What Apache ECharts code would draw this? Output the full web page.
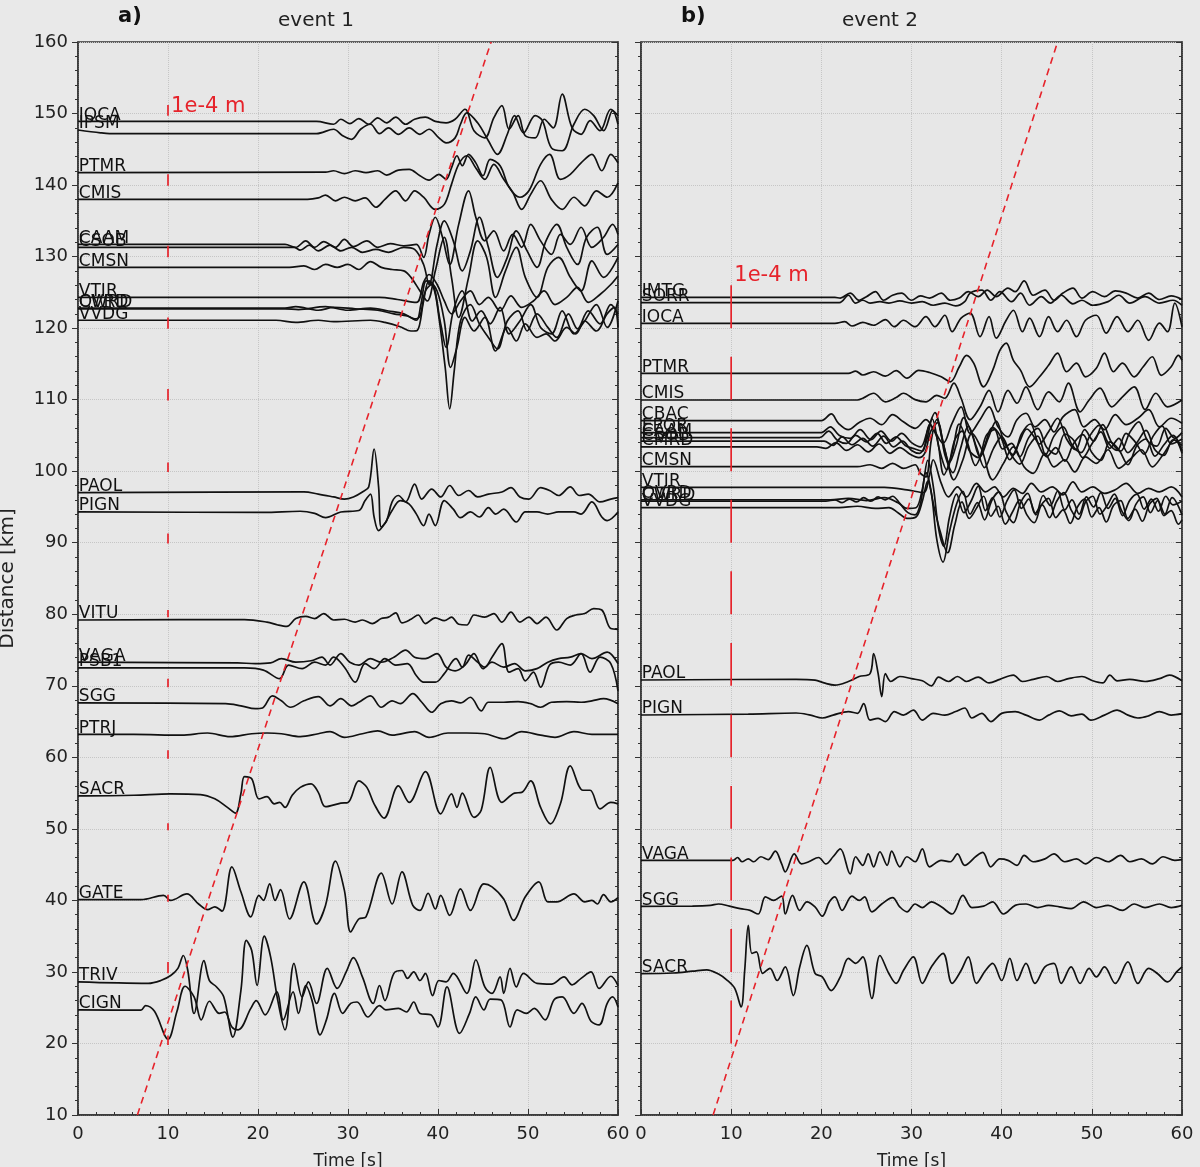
<!DOCTYPE html>
<html>
<head>
<meta charset="utf-8">
<script src="https://cdn.jsdelivr.net/npm/echarts@6/dist/echarts.min.js"></script>
<style>
  html, body { margin: 0; padding: 0; background: #e9e9e9; }
  #mainChart { width: 1200px; height: 1167px; }
</style>
</head>
<body>
<div id="mainChart"></div>
<script>
// ---- event 1 traces: [time s, distance km] ----
var e1IOCA = [[0,148.9],[26.5,148.9],[28.4,148.5],[29.2,149.2],[30.2,148.6],[31.2,149.3],[32.3,148.5],[33.3,149.4],[34.3,148.7],[35.3,149.5],[36.4,148.5],[37.4,149.2],[38.6,149.5],[39.7,148.9],[40.9,148.7],[41.9,149.2],[43.0,150.6],[44.0,147.6],[45.2,146.6],[46.2,149.4],[47.1,151.1],[47.9,147.8],[48.9,149.7],[49.7,146.9],[50.8,146.6],[51.8,149.2],[52.8,148.0],[53.8,152.7],[54.9,148.0],[55.9,147.1],[56.9,149.0],[58.0,147.6],[59.2,150.6],[60,149.7]];
var e1IPSM = [[0,147.7],[2.5,147.3],[3.5,147.2],[26.5,147.2],[28.4,147.8],[29.4,146.9],[30.4,146.4],[31.4,147.8],[32.5,148.5],[33.5,147.2],[34.5,148.0],[35.6,147.1],[36.8,148.0],[38.0,147.1],[39.0,147.8],[40.1,146.6],[40.9,145.9],[41.9,146.6],[42.5,148.5],[43.2,150.1],[44.4,148.7],[45.6,146.2],[46.6,144.3],[47.7,147.1],[48.5,149.7],[49.5,147.3],[50.8,149.7],[51.6,149.0],[52.6,145.2],[53.8,144.8],[55.1,148.5],[56.3,150.6],[57.3,149.7],[58.4,147.6],[59.4,150.4],[60,148.5]];
var e1PTMR = [[0,141.75],[27.5,141.8],[28.4,142.0],[29.6,141.6],[30.8,142.0],[32.0,141.75],[33.3,142.0],[34.3,141.4],[35.6,142.1],[36.8,142.2],[38.0,141.3],[39.0,140.7],[40.1,141.5],[40.9,140.8],[41.5,142.4],[42.1,144.1],[42.7,142.7],[43.4,144.3],[44.2,143.1],[45.0,141.3],[45.8,143.6],[46.9,142.7],[47.9,139.7],[49.1,138.3],[50.1,139.2],[51.4,142.9],[52.4,144.3],[53.6,140.8],[54.7,141.5],[55.9,143.1],[57.1,144.3],[58.2,142.0],[59.2,144.3],[60,143.1]];
var e1CMIS = [[0,138.0],[25.5,138.0],[26.7,138.2],[27.5,138.6],[28.6,137.8],[29.6,138.3],[30.8,137.8],[31.9,138.2],[33.1,136.9],[34.1,138.0],[35.3,139.2],[36.4,137.8],[37.4,139.2],[38.4,138.3],[39.7,136.6],[40.7,137.3],[41.5,140.1],[42.3,142.9],[43.2,144.1],[44.2,142.4],[45.2,140.8],[46.2,142.9],[47.3,140.8],[48.3,139.0],[49.3,136.6],[50.3,138.7],[51.4,140.6],[52.6,138.0],[53.8,136.6],[55.1,138.3],[56.3,137.1],[57.6,139.2],[58.8,138.3],[60,140.3]];
var e1CAAM = [[0,131.7],[23,131.7],[24.2,131.3],[25.3,132.2],[26.3,131.3],[27.3,132.1],[28.6,131.3],[29.6,132.4],[30.6,131.4],[32.1,132.2],[33.3,131.3],[34.7,131.8],[36.2,131.5],[37.6,131.7],[38.4,129.9],[39.0,133.1],[39.7,135.5],[40.5,132.7],[41.3,128.9],[42.3,134.5],[43.4,139.2],[44.2,135.5],[45.2,132.2],[46.2,133.6],[47.3,130.8],[48.3,133.1],[49.3,131.3],[50.3,134.5],[51.4,132.2],[52.6,130.3],[53.6,133.1],[54.7,131.7],[55.9,134.1],[57.1,131.3],[58.4,132.7],[59.4,134.5],[60,133.1]];
var e1CSOB = [[0,131.3],[24,131.3],[24.7,130.9],[25.7,131.6],[26.7,130.8],[28.0,131.6],[29.2,130.8],[30.4,131.3],[31.6,130.6],[33.1,131.0],[34.5,130.6],[36.2,131.3],[37.4,131.0],[38.4,128.9],[39.0,126.1],[39.9,131.7],[40.7,135.0],[41.7,132.2],[42.7,128.0],[43.6,130.8],[44.6,135.5],[45.6,131.3],[46.6,127.1],[47.7,129.9],[48.7,133.6],[49.9,130.8],[51.0,128.5],[52.0,132.2],[53.2,134.5],[54.3,131.3],[55.5,128.9],[56.5,132.7],[57.7,134.1],[58.8,130.3],[60,131.7]];
var e1CMSN = [[0,128.5],[23.5,128.5],[25.1,128.7],[26.3,128.2],[27.5,128.9],[28.8,128.5],[30.0,128.9],[31.2,128.2],[32.5,129.3],[33.7,128.5],[34.9,128.2],[36.2,128.0],[37.0,127.1],[38.0,125.2],[38.8,123.8],[39.7,128.0],[40.7,132.7],[41.5,127.1],[42.3,121.5],[43.4,127.1],[44.4,132.2],[45.4,129.9],[46.4,124.3],[47.5,128.0],[48.7,131.3],[49.7,127.1],[51.0,124.3],[52.2,128.5],[53.4,129.9],[54.7,127.1],[55.9,125.2],[57.1,129.4],[58.4,127.1],[60,129.9]];
var e1VTIR = [[0,124.3],[33.5,124.3],[35.5,124.0],[37.6,123.6],[38.4,126.4],[39.0,127.5],[39.9,126.1],[40.7,123.8],[41.5,122.0],[42.5,123.8],[43.6,125.2],[44.6,123.3],[45.6,124.3],[46.9,122.4],[48.1,124.5],[49.3,122.9],[50.6,123.8],[51.8,125.2],[53.0,123.3],[54.3,124.3],[55.5,125.7],[56.7,123.6],[58.0,124.7],[59.2,126.1],[60,127.3]];
var e1OVRD = [[0,122.8],[23,122.8],[24.2,123.0],[26.7,122.5],[28.4,122.9],[30.8,122.7],[33.3,122.5],[35.1,122.0],[36.6,121.7],[37.6,121.1],[38.1,123.3],[38.7,126.6],[39.5,125.7],[40.1,121.5],[40.8,114.5],[41.3,108.7],[41.8,114.0],[42.5,121.0],[43.6,123.3],[44.6,120.6],[45.6,118.7],[46.6,117.1],[47.7,121.0],[48.9,122.4],[49.9,119.6],[51.0,122.0],[52.2,120.1],[53.2,118.7],[54.5,122.0],[55.5,119.9],[56.7,122.4],[58.0,120.6],[59.2,123.3],[60,122.0]];
var e1CWRD = [[0,122.7],[23,122.7],[24.5,122.6],[27.5,123.0],[30.0,122.5],[32.5,122.8],[34.5,122.4],[36.2,122.0],[37.4,121.3],[38.0,121.7],[38.6,125.2],[39.3,126.1],[40.3,120.6],[40.9,117.3],[41.7,122.4],[42.7,125.2],[43.8,121.0],[44.8,122.4],[45.8,120.6],[46.9,122.9],[47.9,119.2],[49.1,121.0],[50.3,123.3],[51.4,120.1],[52.6,119.2],[53.8,122.4],[55.1,119.2],[56.3,121.0],[57.6,123.3],[58.8,120.1],[60,123.8]];
var e1VVDG = [[0,121.1],[22,121.1],[24.2,120.8],[26.7,121.1],[28.4,120.9],[32.5,121.1],[34.1,120.8],[35.8,120.2],[37.0,119.6],[37.7,119.7],[38.4,123.8],[39.0,126.6],[39.9,125.2],[40.7,121.0],[41.4,114.5],[42.1,117.3],[43.0,121.5],[44.0,119.6],[45.2,121.5],[46.4,116.8],[47.7,120.1],[48.7,118.2],[49.7,120.6],[51.0,118.7],[52.0,119.2],[53.0,118.2],[54.3,120.1],[55.3,119.2],[56.3,121.0],[57.6,119.6],[58.8,122.0],[59.6,122.9],[60,120.1]];
var e1PAOL = [[0,97.0],[25.1,97.1],[26.7,96.8],[28.4,96.4],[29.6,96.1],[30.6,96.4],[31.6,97.1],[32.3,97.8],[32.9,103.1],[33.4,97.8],[33.7,92.2],[34.3,93.1],[34.9,95.7],[35.6,96.6],[36.4,95.7],[37.4,98.2],[38.2,96.1],[39.3,97.5],[40.3,96.4],[41.3,98.0],[42.3,96.6],[43.4,97.3],[44.4,96.4],[45.6,96.8],[47.1,97.1],[48.1,97.7],[49.1,96.4],[50.1,96.1],[51.4,97.7],[52.4,97.3],[53.4,96.6],[54.7,97.8],[55.7,96.6],[56.7,96.8],[58.0,95.7],[59.2,96.1],[60,96.3]];
var e1PIGN = [[0,94.3],[20.6,94.25],[24.7,94.4],[26.3,94.1],[27.5,93.5],[29.2,94.3],[31.2,94.5],[31.9,95.9],[32.5,96.8],[32.9,93.6],[33.4,91.7],[34.1,92.7],[34.9,94.5],[35.8,95.9],[36.8,95.4],[37.6,94.0],[38.4,92.4],[39.0,94.0],[39.7,92.4],[40.7,95.9],[41.7,94.7],[42.5,93.5],[43.6,94.3],[44.6,93.6],[45.6,94.9],[46.4,94.0],[47.3,94.7],[48.7,92.9],[49.7,94.3],[51.0,94.3],[52.2,94.0],[53.4,94.3],[55.1,94.3],[55.9,94.0],[57.1,95.7],[58.2,93.6],[58.8,93.1],[60,94.3]];
var e1VITU = [[0,79.2],[18.5,79.25],[21.0,78.9],[22.2,78.5],[23.2,78.3],[24.2,79.4],[25.3,79.7],[26.3,79.4],[27.3,80.1],[28.4,79.2],[29.6,79.3],[30.8,78.9],[31.6,79.2],[32.7,78.7],[33.7,79.4],[34.5,79.6],[35.3,80.2],[36.0,78.8],[37.0,79.3],[37.8,79.9],[38.6,78.7],[39.7,79.5],[40.7,79.1],[41.5,79.6],[42.3,78.6],[43.2,78.5],[44.0,79.9],[45.2,79.6],[46.2,80.1],[47.1,78.9],[48.1,80.3],[49.1,78.9],[50.1,79.6],[51.0,78.7],[52.0,79.6],[53.2,77.8],[54.3,79.4],[55.3,79.9],[56.3,80.1],[57.3,80.8],[58.2,80.6],[59.2,78.0],[60,77.9]];
var e1VAGA = [[0,73.3],[17.7,73.2],[19.7,73.1],[21.4,73.2],[22.6,73.8],[24.2,73.3],[25.9,73.5],[27.1,74.0],[28.0,72.9],[29.2,74.5],[30.2,73.3],[31.2,72.9],[32.5,73.8],[33.7,73.3],[35.1,74.0],[36.4,75.0],[37.4,74.0],[38.6,73.8],[39.9,74.5],[40.9,72.6],[41.9,72.1],[43.0,72.9],[44.0,74.5],[45.0,72.4],[46.0,73.3],[47.3,72.6],[48.5,73.1],[49.7,72.1],[51.0,72.4],[52.2,73.3],[53.4,73.8],[54.7,74.0],[55.9,74.5],[57.1,73.8],[58.8,74.7],[60,73.1]];
var e1PSB1 = [[0,72.5],[18.5,72.5],[20.6,72.2],[22.4,71.0],[23.4,72.9],[24.9,72.4],[26.3,73.3],[27.5,72.9],[28.4,74.0],[29.6,72.6],[30.8,70.5],[31.9,73.1],[32.9,72.4],[34.1,73.8],[35.3,72.9],[36.6,73.1],[37.6,71.4],[38.4,70.5],[39.7,70.5],[40.7,71.7],[42.0,73.8],[42.7,72.6],[43.4,74.3],[44.4,73.3],[45.2,72.6],[46.0,74.0],[47.1,75.9],[47.9,71.9],[48.9,72.4],[49.7,70.7],[50.6,71.9],[51.4,69.8],[52.4,72.9],[53.4,73.3],[54.7,72.9],[55.9,74.5],[56.9,71.9],[58.0,74.0],[59.2,73.1],[60,69.3]];
var e1SGG = [[0,67.6],[16.4,67.5],[18.1,67.2],[19.7,66.8],[20.5,66.9],[21.6,68.6],[22.6,67.9],[23.6,67.0],[25.1,67.9],[26.7,68.5],[28.0,67.2],[29.2,68.2],[30.4,67.2],[31.2,67.7],[32.5,68.6],[33.7,67.0],[34.9,67.9],[35.8,67.5],[37.2,68.9],[38.2,67.7],[39.3,66.3],[40.3,67.5],[41.5,67.9],[42.5,67.6],[43.6,68.4],[44.8,66.5],[45.6,67.7],[47.3,67.7],[48.9,67.8],[50.3,67.5],[51.4,67.0],[52.6,67.7],[54.3,67.8],[55.9,67.7],[57.1,67.9],[58.4,68.2],[60,67.5]];
var e1PTRJ = [[0,63.2],[6.2,63.2],[11.5,63.1],[14.4,63.4],[16.9,62.9],[19.3,63.3],[21.0,63.4],[22.6,63.3],[24.7,62.9],[26.7,63.3],[28.0,63.6],[29.6,62.8],[31.6,63.3],[33.3,63.7],[34.9,63.1],[37.4,63.6],[39.0,62.8],[41.1,63.4],[43.2,63.4],[45.2,63.3],[47.3,62.6],[49.3,63.6],[51.4,63.1],[53.0,62.8],[55.1,63.6],[57.1,63.2],[60,63.2]];
var e1SACR = [[0,54.6],[6.2,54.7],[10.3,54.9],[13.6,54.8],[15.2,54.2],[16.6,53.0],[17.5,52.2],[18.1,54.9],[18.5,57.3],[19.3,57.0],[20.1,54.2],[21.0,54.5],[21.8,53.5],[22.4,53.7],[23.0,53.0],[23.8,54.7],[24.7,55.8],[25.9,56.3],[26.7,55.1],[27.5,53.1],[29.2,53.6],[30.0,53.7],[31.2,56.7],[32.1,55.8],[32.9,53.5],[34.0,51.5],[35.6,56.0],[36.8,53.7],[38.6,58.0],[40.3,52.1],[41.5,54.9],[42.1,53.0],[42.7,55.0],[44.0,51.6],[44.8,52.6],[45.8,58.6],[47.1,53.7],[48.5,55.0],[49.3,55.1],[50.3,56.7],[51.4,53.0],[52.5,50.7],[53.6,53.5],[54.7,58.8],[56.1,55.4],[56.9,55.4],[58.0,52.8],[59.2,53.7],[60,53.5]];
var e1GATE = [[0,40.1],[7.0,40.1],[9.5,40.7],[10.3,40.0],[12.1,40.9],[13.4,39.5],[14.4,38.7],[15.2,39.1],[16.0,38.5],[17.1,44.7],[18.1,41.2],[19.2,37.7],[20.1,40.7],[20.6,40.0],[21.3,42.3],[21.9,40.0],[22.5,41.5],[23.5,37.4],[25.1,42.6],[26.5,36.7],[27.5,39.3],[28.6,45.5],[29.6,41.4],[30.3,35.6],[31.2,37.4],[32.0,37.7],[33.7,43.8],[34.9,39.5],[36.0,44.0],[37.2,39.3],[38.0,38.6],[38.9,41.0],[39.7,38.8],[40.3,40.7],[41.3,37.9],[42.5,41.6],[43.6,38.6],[45.1,42.3],[46.0,41.9],[47.3,40.2],[48.4,37.2],[49.7,40.5],[51.2,42.6],[52.2,39.8],[53.2,39.8],[55.1,40.9],[56.3,39.8],[57.1,40.0],[57.7,39.5],[58.4,40.8],[59.2,39.8],[60,40.4]];
var e1TRIV = [[0,28.6],[7.8,28.4],[9.2,28.8],[10.3,29.5],[11.1,30.5],[11.7,32.3],[12.2,30.2],[12.9,24.2],[14.0,31.6],[14.6,28.8],[15.4,27.9],[16.2,26.5],[17.2,20.9],[18.1,27.4],[18.7,34.4],[19.3,33.0],[19.9,28.1],[20.7,35.0],[21.4,32.1],[22.2,26.0],[23.0,21.9],[24.0,31.2],[24.9,26.5],[25.6,28.6],[26.5,25.6],[27.7,30.5],[28.8,27.7],[29.8,30.0],[30.6,32.0],[31.6,29.3],[32.8,25.6],[33.5,28.1],[34.1,26.0],[35.1,29.8],[36.0,30.2],[36.6,29.1],[37.3,30.0],[38.0,28.8],[38.6,29.8],[39.4,26.7],[40.1,28.8],[40.9,28.6],[41.7,29.8],[43.2,27.0],[44.2,31.7],[45.2,27.9],[46.0,27.0],[46.9,29.3],[47.3,27.0],[48.0,30.5],[48.7,27.9],[49.5,29.8],[51.0,28.4],[52.6,28.3],[54.0,29.3],[54.9,28.2],[55.9,29.1],[57.0,30.0],[57.9,27.7],[59.2,29.4],[60,28.1]];
var e1CIGN = [[0,24.7],[7.0,24.65],[7.5,25.3],[8.5,24.5],[10.0,20.6],[11.0,24.5],[11.9,28.0],[12.9,26.5],[13.7,23.3],[14.6,25.9],[15.7,24.2],[16.3,24.4],[17.1,22.3],[17.8,21.9],[19.2,24.9],[19.8,26.0],[20.8,24.0],[22.1,27.2],[22.8,23.3],[23.9,27.2],[24.5,24.2],[25.3,28.1],[26.0,26.0],[26.9,21.2],[27.6,23.3],[28.5,27.0],[29.4,24.2],[30.3,25.6],[31.0,25.8],[32.2,23.7],[33.5,25.3],[34.2,24.7],[35.6,24.9],[36.5,24.4],[37.3,25.8],[38.0,24.2],[39.2,24.0],[40.0,22.3],[41.0,27.9],[42.4,21.4],[43.5,24.2],[44.2,26.5],[45.1,24.7],[45.8,26.2],[47.0,26.1],[48.0,22.3],[48.8,24.7],[49.8,24.2],[50.7,24.9],[51.9,23.3],[52.9,26.1],[53.8,26.5],[55.1,24.2],[56.0,25.6],[57.0,23.1],[57.9,22.6],[58.8,25.6],[59.4,26.5],[60,25.1]];

// ---- event 2 traces ----
var e2IMTG = [[0,124.3],[21.5,124.3],[22.1,124.2],[23.2,124.9],[24.2,123.9],[25.0,124.4],[26.0,125.1],[26.9,123.9],[27.9,124.6],[28.9,124.9],[30.0,123.9],[31.0,124.5],[32.0,124.2],[33.3,124.9],[34.3,123.9],[35.3,124.2],[36.3,125.1],[37.4,124.4],[38.4,125.3],[39.4,124.4],[40.7,125.6],[41.5,125.1],[42.5,126.6],[43.5,124.6],[44.8,125.3],[45.8,123.9],[46.8,124.9],[47.9,125.6],[48.9,124.2],[50.1,125.1],[51.4,124.4],[52.6,125.2],[53.8,124.9],[55.1,124.2],[56.3,124.9],[57.5,124.0],[58.8,124.5],[60,124.0]];
var e2SORR = [[0,123.56],[22,123.56],[23.0,124.6],[23.8,123.5],[24.6,123.9],[25.4,123.5],[26.5,123.7],[27.5,123.5],[28.7,123.8],[30.0,123.5],[31.2,123.7],[32.4,123.2],[33.7,123.5],[34.9,123.1],[35.9,123.7],[36.5,124.9],[37.8,125.3],[38.8,123.9],[39.8,125.1],[41.1,123.7],[42.1,124.9],[43.1,123.2],[44.4,124.4],[45.4,123.5],[46.6,124.6],[47.9,123.4],[48.9,123.9],[50.1,123.2],[51.8,123.7],[53.0,124.6],[54.2,123.5],[55.9,124.4],[57.5,123.5],[59.0,123.9],[60,123.2]];
var e2IOCA = [[0,120.67],[21.5,120.67],[22.6,120.9],[23.4,120.3],[24.6,120.8],[25.8,120.4],[27.1,121.2],[28.1,120.2],[29.1,121.1],[30.4,120.2],[31.6,121.6],[32.6,120.2],[33.7,121.8],[34.5,119.5],[35.5,121.4],[36.5,122.1],[37.6,118.8],[38.6,121.6],[39.4,118.6],[40.5,121.1],[41.3,122.5],[42.3,119.5],[43.1,121.4],[44.2,118.8],[45.2,121.6],[46.2,119.5],[47.2,121.1],[48.3,118.8],[49.3,121.1],[50.5,121.8],[51.6,119.3],[52.8,121.6],[54.0,119.5],[55.1,121.1],[56.3,118.3],[57.5,120.7],[58.4,119.5],[59.2,123.5],[60,120.2]];
var e2PTMR = [[0,113.68],[23,113.68],[23.8,114.0],[24.6,113.45],[25.8,113.9],[27.1,113.3],[28.3,114.05],[29.5,113.0],[30.8,114.1],[32.0,113.8],[33.3,113.2],[34.3,112.5],[35.3,114.6],[36.1,116.2],[36.9,115.1],[38.0,111.8],[39.0,114.1],[39.8,116.9],[40.5,117.9],[41.3,115.5],[42.1,114.1],[43.1,111.8],[44.2,113.2],[45.2,114.8],[46.2,116.5],[47.2,113.9],[48.3,115.1],[49.3,113.2],[50.5,114.4],[51.4,116.5],[52.4,113.9],[53.4,115.1],[54.7,113.2],[55.7,114.6],[56.7,116.0],[57.7,113.4],[58.8,114.6],[59.6,116.2],[60,115.5]];
var e2CMIS = [[0,109.95],[24,109.95],[24.6,110.2],[25.8,110.9],[27.1,109.7],[28.3,110.3],[29.1,110.9],[30.4,110.0],[31.6,109.7],[32.8,110.6],[33.7,110.2],[34.7,112.3],[35.5,110.2],[36.5,107.2],[37.6,109.0],[38.6,111.3],[39.6,108.3],[40.7,111.3],[41.7,109.5],[42.7,111.8],[44.0,108.6],[45.2,111.1],[46.4,109.7],[47.4,112.3],[48.7,108.3],[49.7,109.95],[50.9,111.6],[52.2,109.0],[53.4,110.4],[54.7,111.8],[55.9,108.6],[57.1,110.9],[58.4,109.0],[60,109.95]];
var e2CBAC = [[0,107.06],[20,107.06],[21.1,108.0],[21.9,106.7],[23.0,105.8],[24.2,106.8],[25.4,107.4],[26.7,106.5],[27.9,107.9],[29.1,106.9],[30.4,106.0],[31.6,107.2],[32.6,105.5],[33.5,103.9],[34.5,106.7],[35.5,109.0],[36.5,105.3],[37.6,107.2],[38.6,109.0],[39.6,106.2],[40.7,104.8],[41.7,107.2],[42.7,108.1],[43.7,106.2],[44.8,107.2],[45.8,105.5],[46.8,107.6],[48.1,108.6],[49.1,106.2],[50.3,107.2],[51.4,105.8],[52.6,107.9],[53.8,106.5],[55.1,107.4],[56.3,108.6],[57.5,106.2],[58.8,107.4],[60,106.7]];
var e2EPOR = [[0,105.4],[20,105.4],[21,106.2],[22,105.0],[23.2,104.6],[24.3,105.8],[25.5,104.4],[26.6,105.6],[27.8,104.2],[28.9,105.3],[30,104.0],[31,103.4],[31.8,105.8],[32.6,108.2],[33.4,104.5],[34.2,101.2],[35,103.8],[35.8,107.5],[36.7,105.2],[37.6,102.0],[38.5,104.6],[39.4,107.0],[40.3,104.0],[41.3,102.3],[42.2,105.2],[43.2,106.6],[44.2,103.8],[45.2,105.5],[46.2,107.4],[47.2,104.5],[48.2,103.0],[49.2,105.8],[50.2,104.2],[51.2,106.5],[52.2,104.0],[53.2,102.8],[54.2,105.4],[55.2,106.9],[56.2,104.2],[57.2,103.5],[58.2,106.0],[59.2,104.6],[60,105.4]];
var e2CAAM = [[0,104.7],[19.8,104.7],[20.8,105.6],[21.8,104.3],[22.8,103.9],[23.8,105.0],[25,104.1],[26.2,105.3],[27.2,103.9],[28.3,104.8],[29.3,103.6],[30.4,103.1],[31.2,102.8],[32,106.5],[32.8,104.8],[33.6,99.5],[34.5,102.5],[35.3,106.6],[36.2,104.0],[37.1,100.8],[38,103.2],[39,106.1],[39.9,104.8],[40.9,101.6],[41.9,103.9],[42.8,105.9],[43.8,104.4],[44.8,102.2],[45.8,104.9],[46.8,106.2],[47.8,103.7],[48.8,102.6],[49.8,105.0],[50.8,106.4],[51.8,104.0],[52.8,102.9],[53.8,105.3],[54.8,104.1],[55.8,102.4],[56.8,104.9],[57.8,106.3],[58.8,103.8],[60,104.5]];
var e2CSOB = [[0,104.2],[20.3,104.2],[21.3,103.6],[22.3,104.8],[23.4,103.7],[24.6,104.6],[25.7,103.5],[26.9,104.9],[28,103.4],[29,104.2],[30,102.9],[30.9,102.5],[31.6,104.0],[32.3,107.3],[33.1,103.0],[33.9,100.2],[34.8,104.4],[35.6,105.6],[36.4,102.9],[37.4,101.9],[38.3,105.0],[39.2,105.8],[40.1,103.1],[41.1,103.9],[42,102.0],[43,104.7],[44,106.0],[45,103.3],[46,102.4],[47,105.2],[48,104.3],[49,101.9],[50,103.8],[51,105.5],[52,103.2],[53,104.6],[54,102.6],[55,104.0],[56,105.7],[57,103.0],[58,102.2],[59,104.4],[60,103.6]];
var e2CMRD = [[0,103.4],[19.5,103.4],[20.5,103.2],[21.6,104.0],[22.8,102.9],[24,103.7],[25.2,102.7],[26.4,103.8],[27.6,102.5],[28.7,103.3],[29.8,102.4],[30.8,101.9],[31.5,102.6],[32.1,105.5],[32.9,106.8],[33.7,102.3],[34.6,99.8],[35.4,103.0],[36.3,106.3],[37.2,103.4],[38.1,100.5],[39.1,103.2],[40,104.8],[41,102.4],[42,101.0],[43,103.5],[44,104.9],[45,102.0],[46,103.3],[47,101.4],[48,103.9],[49,105.1],[50,102.6],[51,101.5],[52,104.1],[53,103.0],[54,100.9],[55,103.6],[56,104.5],[57,102.1],[58,103.7],[59,105.0],[60,102.8]];
var e2CMSN = [[0,100.63],[24,100.63],[25.4,100.9],[26.7,100.4],[27.9,101.1],[29.1,100.4],[30.4,100.9],[31.0,99.7],[31.6,99.2],[32.2,104.4],[32.8,107.2],[33.7,103.0],[34.7,98.8],[35.7,101.6],[36.7,105.3],[37.8,103.0],[39.0,98.8],[40.2,101.1],[41.3,103.4],[42.5,100.6],[43.5,99.7],[44.8,102.5],[45.8,100.6],[47.0,101.6],[48.1,99.9],[49.3,102.0],[50.5,101.1],[51.8,103.0],[53.0,100.4],[54.2,101.6],[55.5,103.0],[56.7,100.6],[57.9,102.3],[59.2,104.4],[60,102.5]];
var e2VTIR = [[0,97.74],[27,97.74],[29.5,97.4],[31.3,97.0],[32.0,99.5],[32.4,101.6],[33.3,98.3],[34.1,96.4],[35.1,97.8],[36.1,96.4],[37.2,98.3],[38.2,97.1],[39.2,97.8],[40.2,96.4],[41.3,97.6],[42.3,96.9],[43.3,98.3],[44.4,97.1],[45.6,97.8],[46.8,96.7],[47.9,98.5],[48.9,97.1],[50.1,97.8],[51.4,96.9],[52.6,97.4],[53.8,98.3],[55.1,96.9],[56.3,97.6],[57.5,97.1],[58.8,97.8],[60,96.4]];
var e2OVRD = [[0,96.0],[21,96.0],[23,96.2],[25,95.9],[27,96.3],[28.5,95.6],[29.5,94.8],[30.5,94.9],[31.2,97.5],[31.8,101.5],[32.4,98.0],[33.0,92.0],[33.6,89.5],[34.2,93.5],[35,96.8],[35.8,94.2],[36.6,95.8],[37.4,97.9],[38.2,94.5],[39,96.3],[39.8,93.6],[40.6,95.9],[41.4,97.4],[42.2,94.8],[43,96.1],[43.8,93.9],[44.6,96.6],[45.4,95.2],[46.2,97.2],[47,94.6],[47.8,96.0],[48.6,94.0],[49.4,96.4],[50.2,95.0],[51,97.0],[51.8,94.8],[52.6,96.2],[53.4,93.8],[54.2,95.9],[55,96.8],[55.8,94.7],[56.6,96.1],[57.4,94.4],[58.2,96.5],[59,95.3],[60,95.8]];
var e2CWRD = [[0,95.8],[20.5,95.8],[21.5,96.0],[22.3,95.6],[23.1,96.1],[23.9,95.7],[24.7,96.3],[25.5,95.8],[26.3,96.4],[27.1,96.0],[27.9,96.5],[28.7,95.5],[29.6,94.2],[30.4,93.9],[31,95.5],[31.6,99.8],[32.2,97.0],[32.8,90.5],[33.5,87.3],[34.2,91.5],[35,95.4],[35.7,97.2],[36.5,94.0],[37.3,95.6],[38.1,93.2],[38.9,95.9],[39.7,97.1],[40.5,94.3],[41.3,92.8],[42.1,95.6],[42.9,96.9],[43.7,94.1],[44.5,95.3],[45.3,93.5],[46.1,95.8],[46.9,97.0],[47.7,94.6],[48.5,93.3],[49.3,95.7],[50.1,96.5],[50.9,94.0],[51.7,95.2],[52.5,96.8],[53.3,94.5],[54.1,93.1],[54.9,95.4],[55.7,96.4],[56.5,94.2],[57.3,95.9],[58.1,94.0],[58.9,96.3],[60,93.9]];
var e2VVDG = [[0,94.9],[22,94.9],[24,95.1],[26,94.8],[27.5,94.9],[28.5,94.2],[29.5,93.4],[30.5,93.6],[31.2,95.8],[31.8,98.6],[32.5,95.0],[33.2,91.5],[34,88.6],[34.8,92.5],[35.6,95.7],[36.4,93.4],[37.2,94.8],[38,96.5],[38.8,93.7],[39.6,95.1],[40.4,92.6],[41.2,94.3],[42,96.0],[42.8,93.9],[43.6,92.8],[44.4,95.3],[45.2,96.2],[46,93.5],[46.8,94.6],[47.6,92.7],[48.4,95.0],[49.2,96.1],[50,93.6],[50.8,94.9],[51.6,92.9],[52.4,95.2],[53.2,95.9],[54,93.4],[54.8,94.7],[55.6,93.0],[56.4,95.4],[57.2,96.2],[58,93.8],[58.8,94.5],[59.6,92.6],[60,93.2]];
var e2PAOL = [[0,70.81],[17.2,70.9],[19.3,70.8],[20.3,70.4],[21.5,70.1],[23.0,70.6],[24.2,71.3],[25.4,71.7],[25.8,74.5],[26.3,71.7],[26.7,68.5],[27.1,71.7],[27.7,70.6],[28.7,71.3],[30.0,71.0],[31.2,70.7],[32.2,70.0],[33.0,71.2],[34.1,70.6],[35.1,71.3],[36.1,70.6],[37.4,71.2],[38.6,70.4],[39.8,70.9],[41.3,71.5],[42.3,70.6],[43.5,70.9],[45.0,71.3],[46.2,70.6],[47.4,71.0],[48.9,71.3],[50.1,70.7],[51.2,70.4],[52.0,71.5],[52.8,70.7],[54.2,70.9],[55.9,70.6],[57.5,71.0],[58.6,71.5],[60,70.7]];
var e2PIGN = [[0,65.92],[11.9,66.05],[17.2,66.2],[18.8,65.9],[20.1,65.5],[21.3,65.9],[23.0,66.4],[24.0,66.15],[24.7,67.5],[25.4,65.2],[26.3,65.45],[27.1,65.0],[28.1,66.4],[29.1,65.9],[30.2,66.6],[31.2,65.2],[32.4,66.15],[33.7,65.9],[34.9,66.4],[35.9,66.9],[36.7,65.5],[37.8,66.15],[38.8,65.0],[40.0,66.15],[41.5,66.4],[42.7,65.9],[44.2,65.2],[45.2,65.9],[46.4,66.5],[47.7,65.8],[48.9,66.05],[49.9,65.2],[51.4,65.9],[52.8,66.6],[54.0,65.9],[55.1,65.5],[56.3,65.8],[57.5,66.4],[58.8,65.9],[60,66.1]];
var e2VAGA = [[0,45.6],[9,45.6],[10.2,45.6],[10.7,46.0],[11.2,45.4],[11.9,45.8],[12.5,45.4],[13.3,46.1],[14.1,45.7],[14.9,46.9],[15.6,45.1],[16.0,44.0],[17.0,46.5],[17.8,45.1],[18.6,45.4],[19.7,46.0],[20.5,45.1],[21.3,46.1],[22.1,47.2],[23.2,43.7],[23.8,46.1],[24.6,44.9],[25.2,46.5],[25.8,44.7],[26.5,46.8],[27.3,44.9],[27.8,46.9],[28.7,44.7],[29.5,46.1],[30.4,45.4],[31.2,47.2],[32.0,44.7],[33.3,45.6],[34.3,45.4],[35.1,46.5],[35.9,44.9],[37.2,46.2],[37.9,46.7],[38.8,44.7],[39.8,45.8],[40.7,45.6],[41.7,44.9],[42.5,46.3],[43.5,45.4],[44.8,45.8],[45.8,46.5],[47.0,45.4],[48.3,45.8],[49.3,45.1],[50.5,46.0],[51.8,45.4],[53.2,46.3],[54.2,45.4],[55.5,45.8],[56.7,45.1],[57.9,46.1],[59.2,45.6],[60,45.7]];
var e2SGG = [[0,39.17],[5.7,39.2],[7.7,39.3],[8.6,39.5],[9.8,39.2],[11.0,38.85],[12.1,38.6],[13.0,38.1],[13.8,40.5],[14.7,40.0],[15.6,40.6],[16.0,38.1],[16.8,40.7],[17.6,38.6],[18.4,39.8],[19.3,39.1],[20.1,37.8],[20.9,39.8],[21.5,40.5],[22.3,38.6],[23.4,40.6],[24.2,40.0],[24.8,40.5],[25.6,38.4],[26.7,39.5],[27.9,40.4],[28.7,39.1],[29.5,38.4],[30.4,39.5],[31.2,39.0],[32.2,39.8],[33.3,39.1],[34.5,38.1],[35.7,40.7],[36.7,39.0],[38.0,39.2],[39.0,39.8],[40.2,38.1],[41.5,39.3],[42.7,39.5],[44.0,39.0],[45.2,39.3],[46.4,39.1],[47.7,38.85],[49.1,39.8],[50.5,39.0],[51.8,39.3],[53.4,38.6],[54.7,39.5],[55.9,39.0],[57.5,39.5],[58.8,39.0],[60,39.3]];
var e2SACR = [[0,29.75],[3.6,29.85],[5.7,30.1],[7.3,30.3],[8.6,29.7],[9.6,28.8],[10.4,27.7],[11.1,25.1],[11.5,30.2],[11.9,36.5],[12.3,32.6],[12.8,32.8],[13.5,29.8],[14.3,30.5],[15.1,28.8],[16.0,30.7],[16.9,26.7],[17.6,30.7],[18.4,33.7],[19.3,29.8],[20.1,29.3],[21.1,27.4],[22.1,29.3],[23.0,31.9],[23.8,31.2],[24.6,32.1],[25.6,26.3],[26.5,32.3],[27.5,29.75],[28.3,28.4],[29.1,30.2],[30.2,32.1],[31.2,28.4],[32.2,30.7],[33.5,32.6],[34.5,28.4],[35.5,30.2],[36.3,32.1],[37.2,28.4],[38.2,30.2],[39.0,31.2],[40.0,28.8],[40.9,31.9],[41.7,28.8],[42.7,31.2],[43.7,28.4],[44.8,30.7],[45.8,31.2],[46.6,28.4],[47.7,30.7],[48.7,28.4],[49.7,30.5],[50.5,29.3],[51.4,30.7],[52.6,28.4],[54.0,31.4],[55.1,28.4],[56.3,30.5],[57.3,29.75],[58.4,28.6],[59.4,30.0],[60,30.7]];

var names1 = ['IOCA','IPSM','PTMR','CMIS','CAAM','CSOB','CMSN','VTIR','OVRD','CWRD','VVDG','PAOL','PIGN','VITU','VAGA','PSB1','SGG','PTRJ','SACR','GATE','TRIV','CIGN'];
var traces1 = [e1IOCA,e1IPSM,e1PTMR,e1CMIS,e1CAAM,e1CSOB,e1CMSN,e1VTIR,e1OVRD,e1CWRD,e1VVDG,e1PAOL,e1PIGN,e1VITU,e1VAGA,e1PSB1,e1SGG,e1PTRJ,e1SACR,e1GATE,e1TRIV,e1CIGN];
var names2 = ['IMTG','SORR','IOCA','PTMR','CMIS','CBAC','EPOR','CAAM','CSOB','CMRD','CMSN','VTIR','OVRD','CWRD','VVDG','PAOL','PIGN','VAGA','SGG','SACR'];
var traces2 = [e2IMTG,e2SORR,e2IOCA,e2PTMR,e2CMIS,e2CBAC,e2EPOR,e2CAAM,e2CSOB,e2CMRD,e2CMSN,e2VTIR,e2OVRD,e2CWRD,e2VVDG,e2PAOL,e2PIGN,e2VAGA,e2SGG,e2SACR];

// red onset lines and amplitude scale bars
var onset1 = [[6.6,10],[45.9,160]];
var onset2 = [[8.0,10],[46.2,160]];
var bars1 = [[19.8,21.1],[29.8,31.4],[39.8,40.8],[49.8,50.8],[59.8,61.0],[69.8,71.0],[79.6,80.6],[89.9,91.3],[99.9,101.2],[109.9,111.5],[119.9,121.5],[129.9,131.5],[139.9,141.5],[149.7,151.2]];
var bars2 = [[20,26],[30,36],[40,46],[50,56],[60,66],[70,76],[80,86],[90,96],[100,106],[110,116],[120,126]];

var FONT = 'DejaVu Sans';
var RED = '#e6232b';

function xAx(grid) {
    return {
        gridIndex: grid, type: 'value', min: 0, max: 60, interval: 10,
        name: 'Time [s]', nameLocation: 'middle', nameGap: 38,
        nameTextStyle: {fontFamily: FONT, fontSize: 17, color: '#222'},
        axisLine: {show: true, onZero: false, lineStyle: {color: '#333', width: 1.5}},
        axisTick: {inside: true, length: 6, lineStyle: {color: '#333'}},
        minorTick: {show: true, splitNumber: 5, length: 3, lineStyle: {color: '#333'}},
        axisLabel: {fontFamily: FONT, fontSize: 18, color: '#222', margin: 10},
        splitLine: {show: true, lineStyle: {color: '#c6c6c6', type: 'dotted'}}
    };
}
function yAx(grid, pos, labels) {
    return {
        gridIndex: grid, type: 'value', min: 10, max: 160, interval: 10, position: pos,
        name: labels ? 'Distance [km]' : '', nameLocation: 'middle', nameGap: 60,
        nameTextStyle: {fontFamily: FONT, fontSize: 20, color: '#222'},
        axisLine: {show: true, lineStyle: {color: '#333', width: 1.5}},
        axisTick: {show: true, inside: pos === 'right', length: 6, lineStyle: {color: '#333'}},
        minorTick: {show: true, splitNumber: 5, length: 3, lineStyle: {color: '#333'}},
        axisLabel: {show: labels, fontFamily: FONT, fontSize: 18, color: '#222', margin: 10},
        splitLine: {show: pos === 'left', lineStyle: {color: '#c6c6c6', type: 'dotted'}}
    };
}

var series = [];
function addPanel(grid, names, traces, onset, bars, barLabelY) {
    var yi = grid * 2;
    traces.forEach(function (tr, i) {
        series.push({
            type: 'line', xAxisIndex: grid, yAxisIndex: yi, data: tr, name: names[i],
            showSymbol: false, smooth: 0.35, clip: true, silent: true,
            lineStyle: {color: '#111', width: 1.7}
        });
    });
    series.push({
        type: 'scatter', xAxisIndex: grid, yAxisIndex: yi, symbolSize: 1, silent: true,
        itemStyle: {color: 'rgba(0,0,0,0)', opacity: 1},
        data: traces.map(function (tr, i) { return [0.15, tr[0][1], names[i]]; }),
        label: {show: true, formatter: function (p) { return p.data[2]; },
            position: [0, 3], align: 'left', verticalAlign: 'bottom', opacity: 1,
            fontFamily: FONT, fontSize: 17, color: '#111'}
    });
    series.push({
        type: 'line', xAxisIndex: grid, yAxisIndex: yi, data: onset, showSymbol: false, silent: true,
        lineStyle: {color: RED, width: 1.6, type: [7, 5]}
    });
    var bd = [];
    bars.forEach(function (b) { bd.push([10, b[0]], [10, b[1]], [10, '-']); });
    series.push({
        type: 'line', xAxisIndex: grid, yAxisIndex: yi, data: bd, showSymbol: false, silent: true,
        connectNulls: false, lineStyle: {color: RED, width: 1.7}
    });
    series.push({
        type: 'scatter', xAxisIndex: grid, yAxisIndex: yi, symbolSize: 1, silent: true,
        itemStyle: {color: 'rgba(0,0,0,0)', opacity: 1},
        data: [[10.4, barLabelY]],
        label: {show: true, formatter: '1e-4 m', position: [0, 0], align: 'left', verticalAlign: 'middle', opacity: 1,
            fontFamily: FONT, fontSize: 21, color: RED}
    });
}
addPanel(0, names1, traces1, onset1, bars1, 150.9);
addPanel(1, names2, traces2, onset2, bars2, 127.3);

var chart = echarts.init(document.getElementById('mainChart'));
var option = {
    backgroundColor: '#e9e9e9',
    animation: false,
    grid: [
        {left: 78, right: 582, top: 42, bottom: 52, show: true, outerBoundsMode: 'none', containLabel: false,
         backgroundColor: '#e7e7e7', borderColor: '#333', borderWidth: 1.5},
        {left: 641, right: 18, top: 42, bottom: 52, show: true, outerBoundsMode: 'none', containLabel: false,
         backgroundColor: '#e7e7e7', borderColor: '#333', borderWidth: 1.5}
    ],
    xAxis: [xAx(0), xAx(1)],
    yAxis: [yAx(0, 'left', true), yAx(0, 'right', false), yAx(1, 'left', false), yAx(1, 'right', false)],
    graphic: [
        {type: 'text', left: 118, top: 6, style: {text: 'a)', font: 'bold 21px ' + FONT, fill: '#111'}},
        {type: 'text', left: 278, top: 11, style: {text: 'event 1', font: '20px ' + FONT, fill: '#222'}},
        {type: 'text', left: 681, top: 6, style: {text: 'b)', font: 'bold 21px ' + FONT, fill: '#111'}},
        {type: 'text', left: 842, top: 11, style: {text: 'event 2', font: '20px ' + FONT, fill: '#222'}}
    ],
    series: series
};
chart.setOption(option);
</script>
</body>
</html>
